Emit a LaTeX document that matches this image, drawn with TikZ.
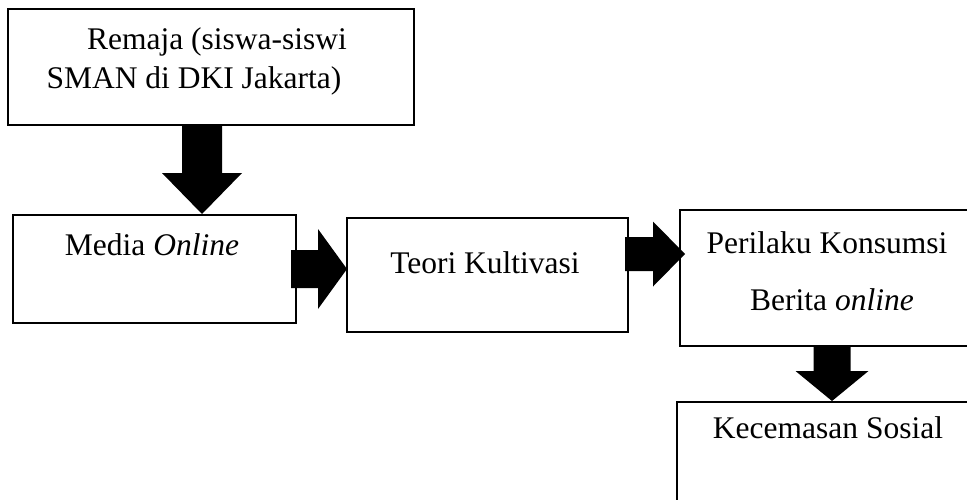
\documentclass[tikz,border=0pt]{standalone}
\usepackage{fontspec}
\setmainfont{Liberation Serif}
\usetikzlibrary{calc}

\newcommand{\boxfont}{\fontsize{31.5}{39}\selectfont}
% tip, angle, length, head length, shaft half width, head half width
\newcommand{\blockarrow}[6]{%
 \fill[shift={(#1)}, rotate=#2] (0,0) -- (-#4,#6) -- (-#4,#5) -- (-#3,#5)
   -- (-#3,-#5) -- (-#4,-#5) -- (-#4,-#6) -- cycle;}

\tikzset{
 box/.style={draw, line width=2pt, inner sep=0pt, anchor=north west},
 txt/.style={inner sep=0pt, anchor=base, font=\boxfont}
}

\begin{document}
\begin{tikzpicture}[x=1pt, y=1pt]
 \useasboundingbox (0,0) rectangle (967,-499);
 \clip (0,0) rectangle (967,-499);

 \node[box, minimum width=406pt, minimum height=116pt] (remaja) at (7,-8) {};
 \node[box, minimum width=283pt, minimum height=108pt] (media) at (12,-214) {};
 \node[box, minimum width=281pt, minimum height=114pt] (teori) at (346,-217) {};
 \node[box, minimum width=301pt, minimum height=136pt] (perilaku) at (679,-209) {};
 \node[box, minimum width=304pt, minimum height=130pt] (cemas) at (676,-401) {};

 \node[txt] (remajaA) at (217,-49) {Remaja (siswa-siswi};
 \node[txt] (remajaB) at (194,-88) {SMAN di DKI Jakarta)};
 \node[txt] (mediaA) at (152,-255) {Media \textit{Online}};
 \node[txt] (teoriA) at (485,-273) {Teori Kultivasi};
 \node[txt] (perilakuA) at (827,-253) {Perilaku Konsumsi};
 \node[txt] (perilakuB) at (832,-310) {Berita \textit{online}};
 \node[txt] (cemasA) at (828,-438) {Kecemasan Sosial};

 \coordinate (t1) at (202,0 |- media.north);
 \coordinate (t2) at (347,-269);
 \coordinate (t3) at (685,-254);
 \coordinate (t4) at (832,0 |- cemas.north);

 \blockarrow{t1}{-90}{88}{41}{20}{40}
 \blockarrow{t2}{0}{56}{29}{19}{40}
 \blockarrow{t3}{0}{60}{32}{17}{32.5}
 \blockarrow{t4}{-90}{55}{30}{18.5}{36.5}
\end{tikzpicture}
\end{document}
